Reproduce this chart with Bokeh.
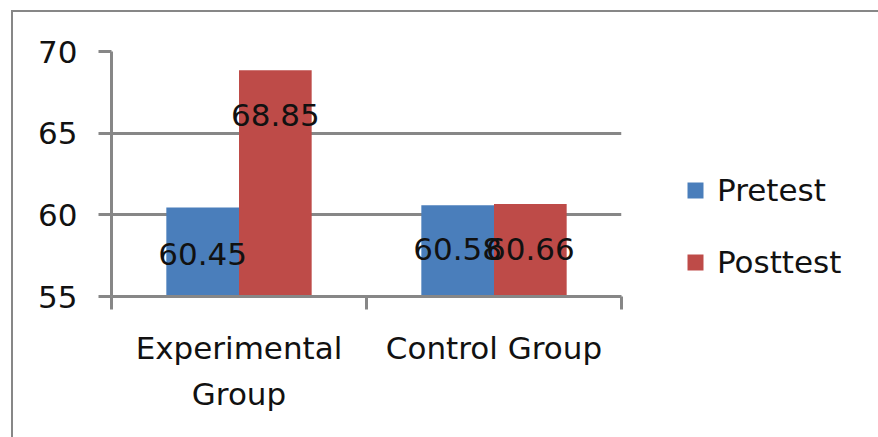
from bokeh.plotting import figure
from bokeh.models import (Range1d, FixedTicker, Legend, LegendItem, Grid,
                          ColumnDataSource, LinearAxis)
from bokeh.core.properties import value
from bokeh.embed import file_html
from bokeh.resources import INLINE

categories = ["Experimental\nGroup", "Control Group"]
series = ["Pretest", "Posttest"]
pretest = [60.45, 60.58]
posttest = [68.85, 60.66]
pre_labels = ["60.45", "60.58"]
post_labels = ["68.85", "60.66"]
pre_label_y = [57.6, 57.9]
post_label_y = [66.1, 57.9]
y_ticks = [55, 60, 65, 70]

FONT = "DejaVu Sans"
FS = "31px"
GREY = "#878787"
BLUE = "#4A7EBB"
RED = "#BE4B48"

n = len(categories)
centers = [i + 0.5 for i in range(n)]
bw = 0.285

p = figure(frame_width=510, frame_height=245, min_border_left=98, min_border_right=257,
           min_border_top=39, min_border_bottom=141,
           x_range=Range1d(0, n), y_range=Range1d(55, 70),
           output_backend="svg", toolbar_location=None, x_axis_type=None, y_axis_type=None)
p.background_fill_color = "white"
p.border_fill_color = "white"
p.outline_line_color = None
p.styles = {"margin-left": "11px", "margin-top": "10px",
            "border-left": "2px solid #878787", "border-top": "2px solid #878787"}

src_pre = ColumnDataSource(dict(x=[c - bw / 2 for c in centers], top=pretest,
                                ly=pre_label_y, lab=pre_labels))
src_post = ColumnDataSource(dict(x=[c + bw / 2 for c in centers], top=posttest,
                                 ly=post_label_y, lab=post_labels))

r_pre = p.vbar(x="x", top="top", bottom=55, width=bw, source=src_pre,
               fill_color=BLUE, line_color=None)
r_post = p.vbar(x="x", top="top", bottom=55, width=bw, source=src_post,
                fill_color=RED, line_color=None)

for s in (src_pre, src_post):
    p.text(x="x", y="ly", text="lab", source=s, text_align="center",
           text_baseline="middle", text_font=value(FONT), text_font_size=FS,
           text_color="#111111")

# y axis
yaxis = LinearAxis(ticker=FixedTicker(ticks=y_ticks))
yaxis.axis_line_color = GREY
yaxis.axis_line_width = 3
yaxis.major_tick_line_color = GREY
yaxis.major_tick_line_width = 3
yaxis.major_tick_out = 13
yaxis.major_tick_in = 0
yaxis.minor_tick_line_color = None
yaxis.major_label_standoff = 21
yaxis.major_label_text_font = FONT
yaxis.major_label_text_font_size = FS
yaxis.major_label_text_color = "#111111"
p.add_layout(yaxis, "left")

# x axis: labels at category centres, tick marks at category boundaries
xaxis = LinearAxis(ticker=FixedTicker(ticks=centers, minor_ticks=list(range(n + 1))))
xaxis.major_label_overrides = {c: lab for c, lab in zip(centers, categories)}
xaxis.axis_line_color = GREY
xaxis.axis_line_width = 3
xaxis.major_tick_line_color = None
xaxis.major_tick_out = 0
xaxis.major_tick_in = 0
xaxis.minor_tick_line_color = GREY
xaxis.minor_tick_line_width = 3
xaxis.minor_tick_out = 13
xaxis.minor_tick_in = 0
xaxis.major_label_standoff = 20
xaxis.major_label_text_font = FONT
xaxis.major_label_text_font_size = FS
xaxis.major_label_text_color = "#111111"
xaxis.major_label_text_line_height = 1.3
p.add_layout(xaxis, "below")

grid = Grid(dimension=1, ticker=yaxis.ticker, grid_line_color=GREY, grid_line_width=3)
p.add_layout(grid)

legend = Legend(items=[LegendItem(label=series[0], renderers=[r_pre]),
                       LegendItem(label=series[1], renderers=[r_post])],
                location=(64, 16))
legend.glyph_width = 20
legend.glyph_height = 20
legend.label_height = 36
legend.spacing = 36
legend.label_standoff = 12
legend.padding = 0
legend.margin = 0
legend.border_line_color = None
legend.background_fill_alpha = 0
legend.label_text_font = FONT
legend.label_text_font_size = FS
legend.label_text_color = "#111111"
p.add_layout(legend, "right")

open("out.html", "w").write(file_html(p, INLINE))
